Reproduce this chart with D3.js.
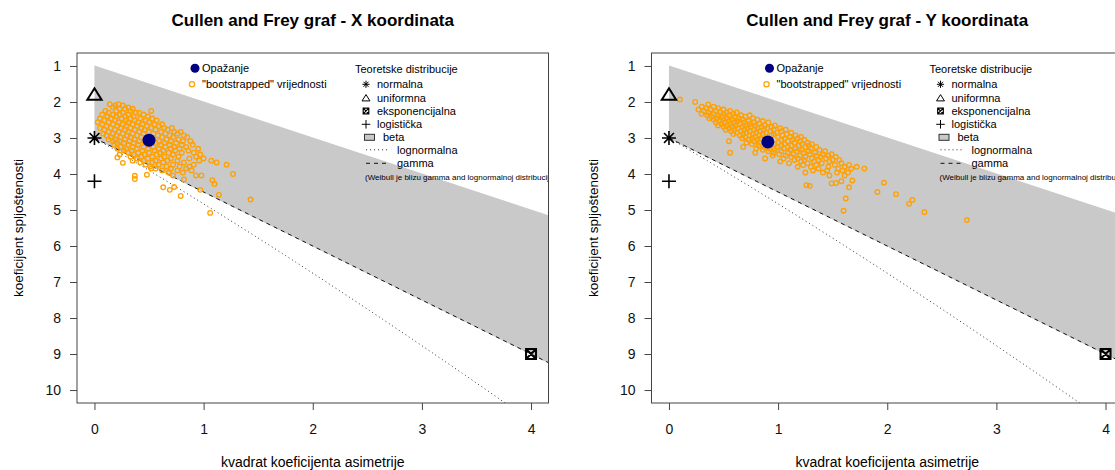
<!DOCTYPE html>
<html>
<head>
<meta charset="utf-8">
<script src="https://cdn.jsdelivr.net/npm/d3@7"></script>
<style>
    body { margin: 0; background: #fff; }
    svg { font-family: "Liberation Sans", Arial, sans-serif; }
</style>
</head>
<body>
<svg id="chart" width="1115" height="470"></svg>
<script>
'use strict';

// --- data ---
const panel_titles = ['Cullen and Frey graf - X koordinata', 'Cullen and Frey graf - Y koordinata'];
const x_label = 'kvadrat koeficijenta asimetrije';
const y_label = 'koeficijent spljoštenosti';
const x_ticks = [0, 1, 2, 3, 4];
const y_ticks = [1, 2, 3, 4, 5, 6, 7, 8, 9, 10];

// observed [skewness^2, kurtosis]
const observed = [[0.50, 3.06], [0.906, 3.11]];

// theoretical distributions [skewness^2, kurtosis]
const normal_pt = [0, 3];
const uniform_pt = [0, 1.8];
const exponential_pt = [4, 9];
const logistic_pt = [0, 4.2];

// bootstrapped values, rows of [kurtosis, [skewness^2 ...]]
const boot_rows_x = [
    [2.06, [0.14, 0.22]],
    [2.10, [0.19, 0.26]],
    [2.15, [0.17, 0.31]],
    [2.19, [0.23, 0.28, 0.35]],
    [2.25, [0.10, 0.20, 0.33, 0.52]],
    [2.30, [0.13, 0.26, 0.38, 0.41]],
    [2.35, [0.07, 0.17, 0.23, 0.31, 0.45]],
    [2.40, [0.12, 0.20, 0.28, 0.36, 0.49]],
    [2.46, [0.05, 0.15, 0.25, 0.33, 0.42, 0.53]],
    [2.51, [0.09, 0.19, 0.29, 0.37, 0.47, 0.57]],
    [2.56, [0.03, 0.13, 0.22, 0.31, 0.40, 0.50]],
    [2.62, [0.07, 0.17, 0.26, 0.35, 0.44, 0.55, 0.62]],
    [2.67, [0.11, 0.21, 0.29, 0.39, 0.48, 0.59]],
    [2.72, [0.05, 0.15, 0.24, 0.33, 0.43, 0.52, 0.64, 0.71]],
    [2.77, [0.09, 0.19, 0.28, 0.37, 0.46, 0.56, 0.67]],
    [2.83, [0.13, 0.22, 0.31, 0.41, 0.50, 0.61, 0.73, 0.79]],
    [2.88, [0.08, 0.17, 0.26, 0.35, 0.45, 0.54, 0.65, 0.76]],
    [2.93, [0.11, 0.20, 0.30, 0.39, 0.58, 0.69, 0.82]],
    [2.98, [0.15, 0.24, 0.33, 0.43, 0.62, 0.72, 0.85]],
    [3.04, [0.13, 0.19, 0.28, 0.37, 0.66, 0.77]],
    [3.09, [0.17, 0.23, 0.32, 0.41, 0.59, 0.70, 0.81, 0.88]],
    [3.14, [0.21, 0.27, 0.36, 0.46, 0.56, 0.64, 0.75]],
    [3.19, [0.18, 0.31, 0.40, 0.50, 0.61, 0.69, 0.80, 0.90]],
    [3.25, [0.24, 0.35, 0.45, 0.54, 0.65, 0.73, 0.84]],
    [3.30, [0.21, 0.29, 0.39, 0.49, 0.59, 0.70, 0.78, 0.95]],
    [3.35, [0.27, 0.34, 0.44, 0.55, 0.63, 0.74, 0.86]],
    [3.41, [0.31, 0.40, 0.50, 0.60, 0.68, 0.80, 0.91]],
    [3.46, [0.23, 0.36, 0.46, 0.57, 0.72, 0.97]],
    [3.52, [0.33, 0.43, 0.53, 0.64, 0.77, 0.93]],
    [3.57, [0.39, 0.49, 0.61, 0.70, 0.87, 1.00]],
    [3.63, [0.35, 0.45, 0.56, 0.67, 0.76, 0.96, 1.07]],
    [3.68, [0.42, 0.53, 0.63, 0.82, 1.12]],
    [3.74, [0.47, 0.59, 0.72, 0.91, 1.21]],
    [3.79, [0.51, 0.66, 0.78, 0.87]],
    [3.85, [0.56, 0.70, 0.84]],
    [3.90, [0.62, 0.76, 0.89]],
    [3.96, [0.68, 0.81]],
    [4.04, [0.72, 0.93, 0.98]]
];
const boot_extra_x = [
    [0.37, 4.05], [0.37, 4.14], [0.26, 3.69], [0.21, 3.54], [1.27, 4.00], [1.43, 4.71],
    [1.08, 4.17], [1.10, 4.28], [0.97, 4.44], [1.14, 4.58], [1.06, 5.08], [0.79, 4.61],
    [0.73, 4.36], [0.82, 4.15], [0.63, 4.37], [0.69, 4.44], [0.52, 3.85], [0.48, 4.02]
];

const boot_rows_y = [
    [1.93, [0.10]],
    [2.00, [0.24]],
    [2.07, [0.36]],
    [2.13, [0.30, 0.41]],
    [2.17, [0.34, 0.45]],
    [2.21, [0.27, 0.38, 0.50]],
    [2.25, [0.32, 0.43, 0.56]],
    [2.29, [0.36, 0.47, 0.53, 0.62]],
    [2.33, [0.30, 0.41, 0.50, 0.59]],
    [2.37, [0.35, 0.45, 0.55, 0.66, 0.74]],
    [2.41, [0.39, 0.49, 0.60, 0.70]],
    [2.45, [0.37, 0.44, 0.53, 0.64, 0.77]],
    [2.49, [0.41, 0.50, 0.58, 0.68, 0.81]],
    [2.53, [0.46, 0.55, 0.63, 0.73, 0.86]],
    [2.57, [0.43, 0.51, 0.60, 0.69, 0.78, 0.91]],
    [2.61, [0.48, 0.56, 0.65, 0.74, 0.83]],
    [2.65, [0.45, 0.53, 0.61, 0.70, 0.79, 0.88, 0.97]],
    [2.69, [0.50, 0.58, 0.67, 0.75, 0.85, 0.94]],
    [2.73, [0.55, 0.63, 0.72, 0.81, 0.90, 1.02]],
    [2.77, [0.52, 0.60, 0.69, 0.78, 0.87, 0.96, 1.07]],
    [2.81, [0.57, 0.66, 0.74, 0.83, 0.93, 1.03]],
    [2.85, [0.62, 0.71, 0.80, 0.89, 0.99, 1.12]],
    [2.89, [0.59, 0.68, 0.77, 0.86, 0.96, 1.08]],
    [2.93, [0.65, 0.74, 0.83, 0.94, 1.04, 1.16]],
    [2.97, [0.70, 0.79, 1.00, 1.11, 1.21]],
    [3.01, [0.67, 0.76, 0.84, 1.06, 1.18]],
    [3.05, [0.73, 0.81, 1.03, 1.13, 1.24]],
    [3.09, [0.55, 0.78, 1.09, 1.20]],
    [3.13, [0.71, 0.83, 1.00, 1.15, 1.27]],
    [3.17, [0.76, 0.88, 0.97, 1.06, 1.22, 1.31]],
    [3.21, [0.82, 0.93, 1.03, 1.12, 1.19, 1.28]],
    [3.25, [0.68, 0.87, 0.99, 1.09, 1.25, 1.35]],
    [3.29, [0.80, 0.92, 1.05, 1.16, 1.30]],
    [3.33, [0.86, 0.97, 1.11, 1.22, 1.38]],
    [3.37, [0.91, 1.03, 1.17, 1.28, 1.43]],
    [3.41, [0.56, 0.79, 0.96, 1.09, 1.23, 1.34]],
    [3.45, [1.01, 1.14, 1.29, 1.41, 1.49]],
    [3.49, [0.95, 1.07, 1.20, 1.35, 1.46]],
    [3.53, [1.12, 1.25, 1.39, 1.53]],
    [3.57, [0.88, 1.05, 1.18, 1.31, 1.44]],
    [3.61, [1.15, 1.24, 1.37, 1.50, 1.56]],
    [3.65, [1.02, 1.21, 1.33, 1.47]],
    [3.70, [1.10, 1.27, 1.40, 1.58]],
    [3.75, [1.23, 1.35, 1.52, 1.65]],
    [3.80, [1.18, 1.30, 1.46, 1.61, 1.72]],
    [3.85, [1.37, 1.55, 1.67, 1.79]],
    [3.90, [1.32, 1.45, 1.59]],
    [3.96, [1.25, 1.41, 1.54, 1.64]],
    [4.04, [1.47, 1.61]]
];
const boot_extra_y = [
    [1.26, 4.31], [1.29, 4.33], [1.49, 4.26], [1.53, 4.25], [1.62, 4.68], [1.60, 5.02],
    [1.65, 4.37], [1.97, 4.24], [1.91, 4.50], [2.08, 4.56], [2.23, 4.72], [2.20, 4.83],
    [2.34, 5.06], [2.73, 5.28], [1.68, 4.18], [1.58, 4.20]
];

const legend_obs = ['Opažanje', '"bootstrapped" vrijednosti'];
const legend_title = 'Teoretske distribucije';
const theory_labels = ['normalna', 'uniformna', 'eksponencijalna', 'logistička', 'beta', 'lognormalna', 'gamma'];
const weibull_note = '(Weibull je blizu gamma and lognormalnoj distribuciji)';

// --- layout ---
const panel_offsets = [0, 574.5];
const plot = {left: 77, top: 53, right: 548.5, bottom: 403};
const orange = '#ffa000', navy = '#000080', beta_grey = '#c9c9c9';

const x = d3.scaleLinear().domain([-0.16, 4.16]).range([plot.left, plot.right]);
const y = d3.scaleLinear().domain([0.64, 10.36]).range([plot.top, plot.bottom]);
const line = d3.line().x(d => x(d[0])).y(d => y(d[1]));

// theoretical bounds: beta region between k = s2 + 1 and the gamma line k = 3 + 1.5 s2
const beta_region = [[0, 1], [5, 6], [5, 10.5], [0, 3]];
const gamma_line = [[0, 3], [5, 10.5]];
// lognormal: s2 = (w+2)^2 (w-1), k = w^4 + 2w^3 + 3w^2 - 3, w = exp(sigma^2)
const lognormal_line = d3.range(1, 1.4, 0.002).map(w =>
    [(w + 2) * (w + 2) * (w - 1), w ** 4 + 2 * w ** 3 + 3 * w ** 2 - 3]);

const svg = d3.select('#chart');

function expand(rows, extra) {
    const pts = [];
    rows.forEach(([k, list]) => list.forEach(s => pts.push([s, k])));
    return pts.concat(extra);
}

function asterisk(g, cx, cy, r, w) {
    const d = r * Math.SQRT1_2;
    g.append('path')
        .attr('d', `M${cx - r},${cy}H${cx + r}M${cx},${cy - r}V${cy + r}` +
            `M${cx - d},${cy - d}L${cx + d},${cy + d}M${cx - d},${cy + d}L${cx + d},${cy - d}`)
        .attr('stroke', '#000').attr('stroke-width', w);
}
function triangle(g, cx, cy, r, w) {
    g.append('path')
        .attr('d', `M${cx},${cy - r}L${cx + r * 1.1},${cy + r * 0.75}L${cx - r * 1.1},${cy + r * 0.75}Z`)
        .attr('fill', 'none').attr('stroke', '#000').attr('stroke-width', w);
}
function plus(g, cx, cy, r, w) {
    g.append('path')
        .attr('d', `M${cx - r},${cy}H${cx + r}M${cx},${cy - r}V${cy + r}`)
        .attr('stroke', '#000').attr('stroke-width', w);
}
function boxed_x(g, cx, cy, r, w) {
    g.append('path')
        .attr('d', `M${cx - r},${cy - r}H${cx + r}V${cy + r}H${cx - r}Z` +
            `M${cx - r},${cy - r}L${cx + r},${cy + r}M${cx - r},${cy + r}L${cx + r},${cy - r}`)
        .attr('fill', 'none').attr('stroke', '#000').attr('stroke-width', w);
}

function draw_panel(i, boot) {
    const g = svg.append('g').attr('transform', `translate(${panel_offsets[i]},0)`);
    const clip_id = 'clip' + i;
    g.append('clipPath').attr('id', clip_id).append('rect')
        .attr('x', plot.left).attr('y', plot.top)
        .attr('width', plot.right - plot.left).attr('height', plot.bottom - plot.top);
    const inner = g.append('g').attr('clip-path', `url(#${clip_id})`);

    inner.append('path').attr('d', line(beta_region)).attr('fill', beta_grey).attr('stroke', beta_grey);
    inner.append('path').attr('d', line(lognormal_line))
        .attr('fill', 'none').attr('stroke', '#333').attr('stroke-dasharray', '1,3');
    inner.append('path').attr('d', line(gamma_line))
        .attr('fill', 'none').attr('stroke', '#111').attr('stroke-dasharray', '4,4');

    inner.selectAll('.boot').data(boot).enter().append('circle')
        .attr('class', 'boot')
        .attr('cx', d => x(d[0])).attr('cy', d => y(d[1])).attr('r', 2.3)
        .attr('fill', 'none').attr('stroke', orange).attr('stroke-width', 1.3);

    inner.append('circle')
        .attr('cx', x(observed[i][0])).attr('cy', y(observed[i][1])).attr('r', 6.5)
        .attr('fill', navy);

    asterisk(inner, x(normal_pt[0]), y(normal_pt[1]), 7, 1.6);
    triangle(inner, x(uniform_pt[0]), y(uniform_pt[1]), 6.5, 2);
    plus(inner, x(logistic_pt[0]), y(logistic_pt[1]), 7, 1.6);
    boxed_x(inner, x(exponential_pt[0]), y(exponential_pt[1]), 5, 2);

    // legend (clipped to the plot region, as in the original)
    const leg = inner.append('g').attr('font-size', 11).attr('fill', '#000');
    leg.append('circle').attr('cx', 195).attr('cy', 68.3).attr('r', 4.5).attr('fill', navy);
    leg.append('circle').attr('cx', 192).attr('cy', 84.3).attr('r', 2.6)
        .attr('fill', 'none').attr('stroke', orange).attr('stroke-width', 1.2);
    legend_obs.forEach((t, j) => leg.append('text')
        .attr('x', 202).attr('y', 68.3 + j * 16).attr('dy', '0.35em').text(t));

    leg.append('text').attr('x', 355).attr('y', 69).attr('dy', '0.35em').text(legend_title);
    const rows = [84.3, 97.7, 111, 124.3, 137.3, 149.8, 163.3];
    asterisk(leg, 366, rows[0], 3.6, 1);
    triangle(leg, 366, rows[1] + 0.5, 3.6, 1);
    boxed_x(leg, 366, rows[2], 2.8, 1.2);
    plus(leg, 366, rows[3], 4.3, 1);
    leg.append('rect').attr('x', 364.5).attr('y', rows[4] - 3).attr('width', 10).attr('height', 6)
        .attr('fill', beta_grey).attr('stroke', '#333');
    leg.append('line').attr('x1', 366).attr('x2', 388).attr('y1', rows[5]).attr('y2', rows[5])
        .attr('stroke', '#333').attr('stroke-dasharray', '1,3');
    leg.append('line').attr('x1', 366).attr('x2', 388).attr('y1', rows[6]).attr('y2', rows[6])
        .attr('stroke', '#111').attr('stroke-dasharray', '4,4');
    const text_x = [377, 377, 377, 377, 383, 397, 397];
    theory_labels.forEach((t, j) => leg.append('text')
        .attr('x', text_x[j]).attr('y', rows[j]).attr('dy', '0.35em').text(t));
    leg.append('text').attr('x', 365).attr('y', 176.7).attr('dy', '0.35em')
        .attr('font-size', 8).text(weibull_note);

    // axes
    const xAxis = d3.axisBottom(x).tickValues(x_ticks).tickSize(7).tickSizeOuter(0).tickPadding(14)
        .tickFormat(d3.format('d'));
    const yAxis = d3.axisLeft(y).tickValues(y_ticks).tickSize(7).tickSizeOuter(0).tickPadding(9)
        .tickFormat(d3.format('d'));
    const ax = g.append('g').attr('transform', `translate(0,${plot.bottom})`).call(xAxis);
    const ay = g.append('g').attr('transform', `translate(${plot.left},0)`).call(yAxis);
    [ax, ay].forEach(a => {
        a.select('.domain').remove();
        a.selectAll('line').attr('stroke', '#444');
        a.selectAll('text').attr('font-size', 14).attr('fill', '#111')
            .attr('font-family', '"Liberation Sans", Arial, sans-serif');
    });

    g.append('rect')
        .attr('x', plot.left).attr('y', plot.top)
        .attr('width', plot.right - plot.left).attr('height', plot.bottom - plot.top)
        .attr('fill', 'none').attr('stroke', '#444');

    const cx = (plot.left + plot.right) / 2;
    g.append('text').attr('x', cx).attr('y', 26).attr('text-anchor', 'middle')
        .attr('font-size', 17).attr('font-weight', 'bold').text(panel_titles[i]);
    g.append('text').attr('x', cx).attr('y', 467).attr('text-anchor', 'middle')
        .attr('font-size', 14).text(x_label);
    g.append('text').attr('transform', `translate(23,${(plot.top + plot.bottom) / 2}) rotate(-90)`)
        .attr('text-anchor', 'middle').attr('font-size', 13.5).text(y_label);
}

draw_panel(0, expand(boot_rows_x, boot_extra_x));
draw_panel(1, expand(boot_rows_y, boot_extra_y));
</script>
</body>
</html>
